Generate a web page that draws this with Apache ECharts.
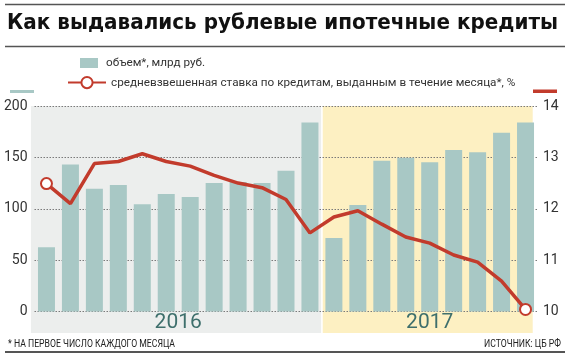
<!DOCTYPE html>
<html><head><meta charset="utf-8">
<script src="https://cdn.jsdelivr.net/npm/echarts@6/dist/echarts.min.js"></script>
<style>html,body{margin:0;padding:0;background:#fff}#c{width:570px;height:360px}</style>
</head><body><div id="c"></div>
<script>
// ---------- data ----------
const months = ['2016-01','2016-02','2016-03','2016-04','2016-05','2016-06','2016-07','2016-08','2016-09','2016-10','2016-11','2016-12',
                '2017-01','2017-02','2017-03','2017-04','2017-05','2017-06','2017-07','2017-08','2017-09'];
const volume = [62.5,143,119.5,123,104.3,114.4,111.4,125,126,125,137,184,71.5,103.6,146.8,149.7,145.2,157.2,154.9,174,184];
const rate = [12.49,12.1,12.88,12.92,13.07,12.92,12.83,12.65,12.5,12.41,12.18,11.53,11.84,11.96,11.7,11.45,11.33,11.1,10.96,10.59,10.04];
const yearLabels = ['2016','2017'];
const yearSpans = [[0,11],[12,20]];
const leftAxis = {min:0, max:200, interval:50};
const rightAxis = {min:10, max:14, interval:1};
const titleText = 'Как выдавались рублевые ипотечные кредиты';
const seriesNames = ['объем*, млрд руб.', 'средневзвешенная ставка по кредитам, выданным в течение месяца*, %'];
const footLeft = '* НА ПЕРВОЕ ЧИСЛО КАЖДОГО МЕСЯЦА';
const footRight = 'ИСТОЧНИК: ЦБ РФ';

// ---------- helpers ----------
const cv = document.createElement('canvas').getContext('2d');
function measure(text, font){ cv.font = font; return cv.measureText(text).width; }
function hasFont(f){
  const t='абвгдежзийклмнопрWwMm0123';
  return measure(t,'16px "'+f+'", monospace') !== measure(t,'16px monospace');
}
const NARROW = hasFont('Liberation Sans Narrow') ? '"Liberation Sans Narrow"' :
               (hasFont('Roboto') ? 'Roboto' : '"DejaVu Sans Condensed"');
const HEAVY = '"DejaVu Sans"';
function fitText(text, size, weight, family, target){
  const w = measure(text, weight+' '+size+'px '+family);
  return target / w;
}
const legendSize = Math.min(13, 13 * fitText(seriesNames[1], 13, 'normal', NARROW, 405));

const BAR = '#a8c8c5', RED = '#c23b2c', TXT = '#333';

const chart = echarts.init(document.getElementById('c'), null, {renderer:'canvas'});
chart.setOption({
  animation:false,
  backgroundColor:'#fff',
  grid:{left:34.5, right:32.5, top:106, bottom:48.5},
  legend:[
    {data:[seriesNames[0]], left:80, top:57, padding:0, itemWidth:18, itemHeight:10, icon:'rect',
     textStyle:{fontFamily:NARROW, fontSize:legendSize, color:TXT, padding:[0,0,0,3]}},
    {data:[seriesNames[1]], left:67, top:76, padding:0, itemWidth:38, itemHeight:14,
     textStyle:{fontFamily:NARROW, fontSize:legendSize, color:TXT}}
  ],
  xAxis:{type:'category', data:months, axisLine:{show:false}, axisTick:{show:false}, axisLabel:{show:false}},
  yAxis:[
    {type:'value', min:leftAxis.min, max:leftAxis.max, interval:leftAxis.interval, position:'left',
     axisLine:{show:false}, axisTick:{show:false},
     axisLabel:{margin:7, fontFamily:NARROW, fontSize:14, color:TXT},
     splitLine:{show:true, lineStyle:{type:[1.5,1.5], color:'#7a7a7a', width:1}}},
    {type:'value', min:rightAxis.min, max:rightAxis.max, interval:rightAxis.interval, position:'right',
     axisLine:{show:false}, axisTick:{show:false},
     axisLabel:{margin:5.5, fontFamily:NARROW, fontSize:14, color:TXT},
     splitLine:{show:false}}
  ],
  series:[
    {name:seriesNames[0], type:'bar', data:volume, yAxisIndex:0, barWidth:17, itemStyle:{color:BAR}},
    {name:seriesNames[1], type:'line', data:rate.map((v,i)=>({value:v, symbol:(i===0||i===rate.length-1)?'emptyCircle':'none'})),
     yAxisIndex:1, symbol:'emptyCircle', symbolSize:11, showAllSymbol:true,
     lineStyle:{color:RED, width:3.5}, itemStyle:{color:RED, borderColor:RED, borderWidth:3}, z:5}
  ]
});

// ---------- decoration computed through the scales ----------
const cx = i => chart.convertToPixel({xAxisIndex:0}, months[i]);
const bw = cx(1) - cx(0);
const yTop = chart.convertToPixel({yAxisIndex:0}, leftAxis.max);
const yZero = chart.convertToPixel({yAxisIndex:0}, leftAxis.min);
const split = (cx(yearSpans[0][1]) + cx(yearSpans[1][0]))/2;
const gL = cx(0) - bw*0.65, yR = cx(months.length-1) + bw*0.3;
const bandBottom = yZero + 21.5;

const titleScale = fitText(titleText, 22, 'bold', HEAVY, 551);
const flScale = Math.min(1.2, fitText(footLeft, 11, 'normal', NARROW, 167));
const frScale = Math.min(1.2, fitText(footRight, 11, 'normal', NARROW, 77));

const g = [
  {type:'rect', z:-10, shape:{x:gL, y:yTop, width:split-0.8-gL, height:bandBottom-yTop}, style:{fill:'#eceeed'}},
  {type:'rect', z:-10, shape:{x:split+0.8, y:yTop, width:yR-split-0.8, height:bandBottom-yTop}, style:{fill:'#fdf0c2'}},
  {type:'line', shape:{x1:5,y1:4.5,x2:565,y2:4.5}, style:{stroke:'#555', lineWidth:1.5}},
  {type:'line', shape:{x1:5,y1:46.5,x2:565,y2:46.5}, style:{stroke:'#555', lineWidth:1.5}},
  {type:'line', shape:{x1:5,y1:352,x2:565,y2:352}, style:{stroke:'#555', lineWidth:2}},
  {type:'text', x:7, y:23, scaleX:titleScale, style:{text:titleText, fontSize:22, fontWeight:'bold', fontFamily:HEAVY, fill:'#111', align:'left', verticalAlign:'middle'}},
  {type:'rect', shape:{x:10, y:90, width:24, height:3}, style:{fill:BAR}},
  {type:'rect', shape:{x:533, y:89.5, width:24, height:3.5}, style:{fill:RED}},
  {type:'text', x:8, y:344.5, scaleX:flScale, style:{text:footLeft, fontSize:11, fontFamily:NARROW, fill:'#222', align:'left', verticalAlign:'middle'}},
  {type:'text', x:561, y:344.5, scaleX:frScale, style:{text:footRight, fontSize:11, fontFamily:NARROW, fill:'#222', align:'right', verticalAlign:'middle'}}
];
yearSpans.forEach((s,k)=>{
  g.push({type:'text', x:(cx(s[0])+cx(s[1]))/2, y:yZero+11.5,
    style:{text:yearLabels[k], fontSize:21, fontFamily:NARROW, fill:'#3e6f6c', align:'center', verticalAlign:'middle'}});
});
chart.setOption({graphic:g});
</script></body></html>
